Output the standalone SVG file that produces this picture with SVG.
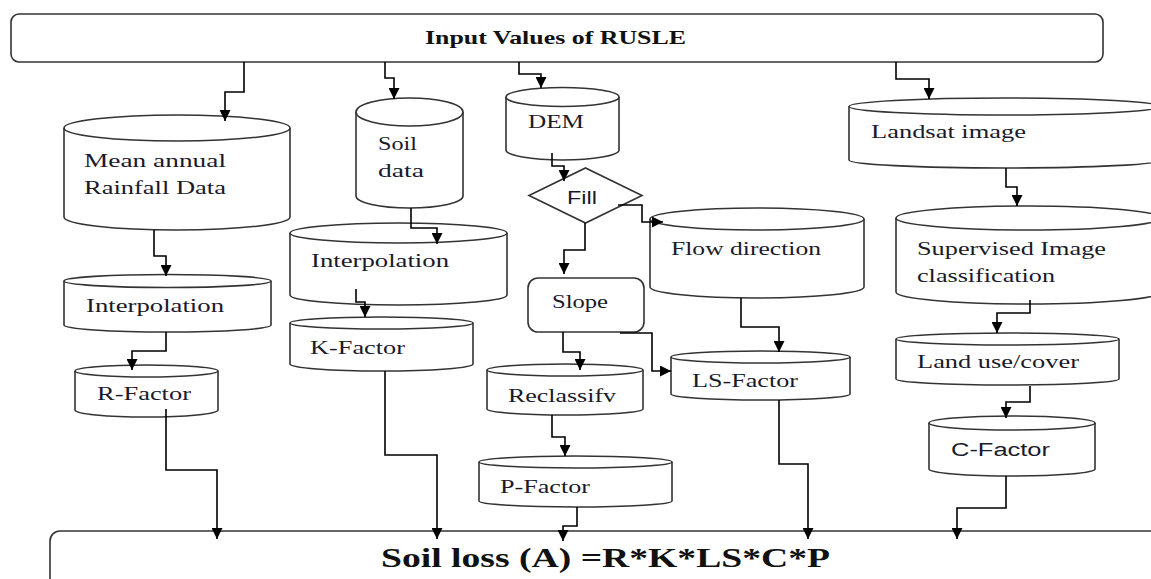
<svg xmlns="http://www.w3.org/2000/svg" width="1151" height="579" viewBox="0 0 1151 579">
<style>
.shape{fill:#fff;stroke:#333;stroke-width:1.6}
.edge{fill:none;stroke:#333;stroke-width:1.6}
.conn{fill:none;stroke:#000;stroke-width:1.6}
.t{font-family:"Liberation Serif","Times New Roman",serif;font-size:19px;fill:#1a1a2a}
.s{font-family:"Liberation Sans",Arial,sans-serif;font-size:18px;fill:#1a1a2a}
.b{font-family:"Liberation Serif","Times New Roman",serif;font-weight:bold;fill:#111}
</style>
<defs>
<marker id="arr" markerUnits="userSpaceOnUse" markerWidth="12" markerHeight="11" refX="11" refY="5.5" orient="auto">
<path d="M0,0 L11,5.5 L0,11 Z" fill="#000"/>
</marker>
</defs>
<rect width="1151" height="579" fill="#fff"/>

<g id="input">
<rect class="shape" x="11" y="14" width="1092" height="48" rx="8"/>
<text class="b" x="425" y="44" font-size="19" textLength="261" lengthAdjust="spacingAndGlyphs">Input Values of RUSLE</text>
</g>

<g id="soilloss">
<rect class="shape" x="50" y="531" width="1130" height="80" rx="10"/>
<text class="b" x="381" y="567" font-size="28" textLength="449" lengthAdjust="spacingAndGlyphs">Soil loss (A) =R*K*LS*C*P</text>
</g>

<g id="rainfall">
<path class="shape" d="M64,128 A113,13 0 0 1 290,128 V217 A113,13 0 0 1 64,217 Z"/>
<path class="edge" d="M64,128 A113,13 0 0 0 290,128"/>
<text class="t" x="84" y="167" textLength="142" lengthAdjust="spacingAndGlyphs">Mean annual</text>
<text class="t" x="84" y="194" textLength="142" lengthAdjust="spacingAndGlyphs">Rainfall Data</text>
</g>

<g id="interp1">
<path class="shape" d="M64,281 A103.5,6.5 0 0 1 271,281 V325 A103.5,7 0 0 1 64,325 Z"/>
<path class="edge" d="M64,281 A103.5,6.5 0 0 0 271,281"/>
<text class="t" x="86" y="312" textLength="138" lengthAdjust="spacingAndGlyphs">Interpolation</text>
</g>

<g id="rfactor">
<path class="shape" d="M75,371 A71.5,6 0 0 1 218,371 V410 A71.5,7 0 0 1 75,410 Z"/>
<path class="edge" d="M75,371 A71.5,6 0 0 0 218,371"/>
<text class="t" x="97" y="400" textLength="94" lengthAdjust="spacingAndGlyphs">R-Factor</text>
</g>

<g id="soildata">
<path class="shape" d="M356,112 A53.5,14 0 0 1 463,112 V196 A53.5,12 0 0 1 356,196 Z"/>
<path class="edge" d="M356,112 A53.5,14 0 0 0 463,112"/>
<text class="t" x="378" y="150" textLength="39" lengthAdjust="spacingAndGlyphs">Soil</text>
<text class="t" x="378" y="177" textLength="46" lengthAdjust="spacingAndGlyphs">data</text>
</g>

<g id="interp2">
<path class="shape" d="M290,233 A108.5,10 0 0 1 507,233 V295 A108.5,10 0 0 1 290,295 Z"/>
<path class="edge" d="M290,233 A108.5,10 0 0 0 507,233"/>
<text class="t" x="311" y="267" textLength="138" lengthAdjust="spacingAndGlyphs">Interpolation</text>
</g>

<g id="kfactor">
<path class="shape" d="M290,323 A91.5,6 0 0 1 473,323 V364 A91.5,7 0 0 1 290,364 Z"/>
<path class="edge" d="M290,323 A91.5,6 0 0 0 473,323"/>
<text class="t" x="310" y="354" textLength="95" lengthAdjust="spacingAndGlyphs">K-Factor</text>
</g>

<g id="dem">
<path class="shape" d="M506,97 A56.5,9.5 0 0 1 619,97 V150 A56.5,10 0 0 1 506,150 Z"/>
<path class="edge" d="M506,97 A56.5,9.5 0 0 0 619,97"/>
<text class="t" x="528" y="128" textLength="56" lengthAdjust="spacingAndGlyphs">DEM</text>
</g>

<g id="fill">
<polygon class="shape" points="529,195.5 585.5,168 642,195.5 585.5,223"/>
<text class="s" x="567" y="204" font-size="17" textLength="30" lengthAdjust="spacingAndGlyphs">Fill</text>
</g>

<g id="slope">
<rect class="shape" x="528" y="278" width="116" height="54" rx="10"/>
<text class="t" x="552" y="308" textLength="56" lengthAdjust="spacingAndGlyphs">Slope</text>
</g>

<g id="flowdir">
<path class="shape" d="M650,219 A107,11 0 0 1 864,219 V287 A107,11 0 0 1 650,287 Z"/>
<path class="edge" d="M650,219 A107,11 0 0 0 864,219"/>
<text class="t" x="671" y="255" textLength="150" lengthAdjust="spacingAndGlyphs">Flow direction</text>
</g>

<g id="reclassify">
<path class="shape" d="M487,370 A78,6 0 0 1 643,370 V409 A78,6 0 0 1 487,409 Z"/>
<path class="edge" d="M487,370 A78,6 0 0 0 643,370"/>
<text class="t" x="508" y="402" textLength="108" lengthAdjust="spacingAndGlyphs">Reclassifv</text>
</g>

<g id="pfactor">
<path class="shape" d="M479,462 A96.5,6 0 0 1 672,462 V501 A96.5,6 0 0 1 479,501 Z"/>
<path class="edge" d="M479,462 A96.5,6 0 0 0 672,462"/>
<text class="t" x="500" y="493" textLength="90" lengthAdjust="spacingAndGlyphs">P-Factor</text>
</g>

<g id="lsfactor">
<path class="shape" d="M671,357 A89.5,6 0 0 1 850,357 V394 A89.5,6 0 0 1 671,394 Z"/>
<path class="edge" d="M671,357 A89.5,6 0 0 0 850,357"/>
<text class="t" x="692" y="387" textLength="106" lengthAdjust="spacingAndGlyphs">LS-Factor</text>
</g>

<g id="landsat">
<path class="shape" d="M849,106.5 A155.5,8.5 0 0 1 1160,106.5 V160 A155.5,8 0 0 1 849,160 Z"/>
<path class="edge" d="M849,106.5 A155.5,8.5 0 0 0 1160,106.5"/>
<text class="t" x="871" y="138" textLength="155" lengthAdjust="spacingAndGlyphs">Landsat image</text>
</g>

<g id="supervised">
<path class="shape" d="M896,218 A132,12 0 0 1 1160,218 V292 A132,12 0 0 1 896,292 Z"/>
<path class="edge" d="M896,218 A132,12 0 0 0 1160,218"/>
<text class="t" x="917" y="255" textLength="189" lengthAdjust="spacingAndGlyphs">Supervised Image</text>
<text class="t" x="917" y="282" textLength="138" lengthAdjust="spacingAndGlyphs">classification</text>
</g>

<g id="landuse">
<path class="shape" d="M896,339 A111.5,6 0 0 1 1119,339 V379 A111.5,6 0 0 1 896,379 Z"/>
<path class="edge" d="M896,339 A111.5,6 0 0 0 1119,339"/>
<text class="t" x="917" y="368" textLength="162" lengthAdjust="spacingAndGlyphs">Land use/cover</text>
</g>

<g id="cfactor">
<path class="shape" d="M929,423 A83,7 0 0 1 1095,423 V469 A83,7 0 0 1 929,469 Z"/>
<path class="edge" d="M929,423 A83,7 0 0 0 1095,423"/>
<text class="s" x="951" y="456" textLength="99" lengthAdjust="spacingAndGlyphs">C-Factor</text>
</g>

<g id="connectors">
<path class="conn" marker-end="url(#arr)" d="M244,62 V92 H225 V121"/>
<path class="conn" marker-end="url(#arr)" d="M385,62 V78 H394 V99"/>
<path class="conn" marker-end="url(#arr)" d="M519,62 V74 H541 V88"/>
<path class="conn" marker-end="url(#arr)" d="M896,62 V79 H929 V99"/>
<path class="conn" marker-end="url(#arr)" d="M154,230 V256 H166 V276"/>
<path class="conn" marker-end="url(#arr)" d="M411,208 V228 H437 V244"/>
<path class="conn" marker-end="url(#arr)" d="M356,289 V302 H365 V317"/>
<path class="conn" marker-end="url(#arr)" d="M166,332 V351 H132 V370"/>
<path class="conn" marker-end="url(#arr)" d="M166,409 V470 H217 V539"/>
<path class="conn" marker-end="url(#arr)" d="M385,371 V455 H437 V539"/>
<path class="conn" marker-end="url(#arr)" d="M552,153 V166 H564 V181"/>
<path class="conn" marker-end="url(#arr)" d="M618,205 H642 V222 H663"/>
<path class="conn" marker-end="url(#arr)" d="M585,223 V250 H564 V274"/>
<path class="conn" marker-end="url(#arr)" d="M563,332 V352 H580 V370"/>
<path class="conn" marker-end="url(#arr)" d="M620,333 H652 V371 H671"/>
<path class="conn" marker-end="url(#arr)" d="M741,298 V327 H779 V352"/>
<path class="conn" marker-end="url(#arr)" d="M552,415 V437 H565 V456"/>
<path class="conn" marker-end="url(#arr)" d="M577,507 V526 H563 V541"/>
<path class="conn" marker-end="url(#arr)" d="M779,400 V464 H808 V539"/>
<path class="conn" marker-end="url(#arr)" d="M1006,168 V187 H1017 V206"/>
<path class="conn" marker-end="url(#arr)" d="M1030,300 V313 H997 V333"/>
<path class="conn" marker-end="url(#arr)" d="M1030,386 V402 H1006 V418"/>
<path class="conn" marker-end="url(#arr)" d="M1006,476 V508 H957 V539"/>
</g>
</svg>
